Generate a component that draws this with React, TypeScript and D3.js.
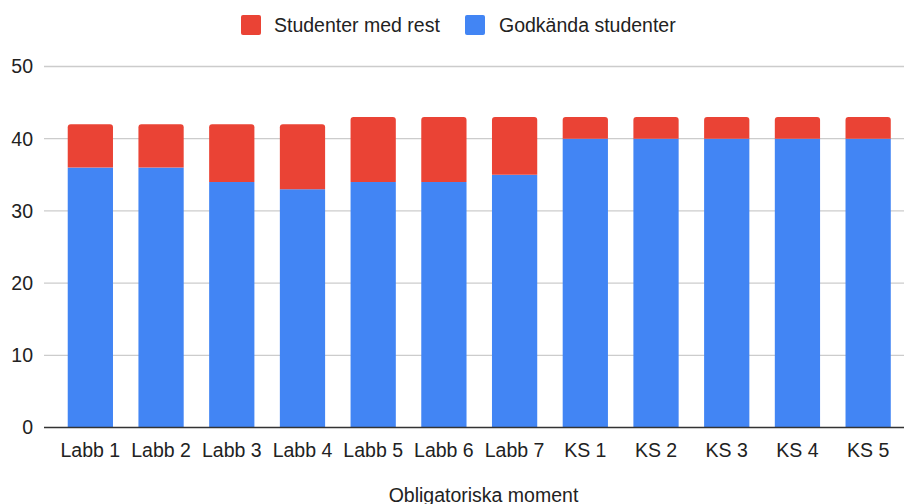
import React from "react";
import * as d3 from "d3";

const categories = ["Labb 1", "Labb 2", "Labb 3", "Labb 4", "Labb 5", "Labb 6", "Labb 7", "KS 1", "KS 2", "KS 3", "KS 4", "KS 5"];
const godkanda = [36, 36, 34, 33, 34, 34, 35, 40, 40, 40, 40, 40];
const medRest = [6, 6, 8, 9, 9, 9, 8, 3, 3, 3, 3, 3];
const yTicks = [0, 10, 20, 30, 40, 50];
const seriesNames = ["Studenter med rest", "Godkända studenter"];
const seriesColors = ["#ea4335", "#4285f4"];
const xTitle = "Obligatoriska moment";

const W = 904;
const H = 504;
const FONT = "'Liberation Sans', Arial, sans-serif";
const FS = 19.5;

function topRoundedRect(x: number, y: number, w: number, h: number, r: number) {
  const rr = Math.min(r, h, w / 2);
  return `M${x},${y + h}V${y + rr}Q${x},${y} ${x + rr},${y}H${x + w - rr}Q${x + w},${y} ${x + w},${y + rr}V${y + h}Z`;
}

export default function App() {
  const x = d3.scaleBand<string>().domain(categories).range([55, 903.5]).paddingInner(0.36).paddingOuter(0.18);
  const y = d3.scaleLinear().domain([0, 50]).range([427.5, 66.5]);
  const bw = x.bandwidth();

  return (
    <svg width={W} height={H} style={{ position: "absolute", left: 0, top: 0 }} fontFamily={FONT}>
      <rect width={W} height={H} fill="#fff" />
      {/* legend */}
      <g>
        <rect x={241} y={15} width={20} height={20} rx={2} fill={seriesColors[0]} />
        <text x={274} y={31.5} fontSize={FS} fill="#222">{seriesNames[0]}</text>
        <rect x={465} y={15} width={20} height={20} rx={2} fill={seriesColors[1]} />
        <text x={499} y={31.5} fontSize={FS} fill="#222">{seriesNames[1]}</text>
      </g>
      {/* gridlines */}
      {yTicks.filter((t) => t !== 0).map((t) => (
        <line key={t} x1={44} x2={904} y1={y(t)} y2={y(t)} stroke="#cccccc" strokeWidth={1.3} />
      ))}
      {yTicks.map((t) => (
        <text key={"l" + t} x={33} y={y(t)} dy="0.35em" textAnchor="end" fontSize={FS} fill="#222">{t}</text>
      ))}
      {/* bars */}
      {categories.map((c, i) => {
        const x0 = x(c)!;
        const g = godkanda[i];
        const r = medRest[i];
        return (
          <g key={c}>
            <rect x={x0} y={y(g)} width={bw} height={y(0) - y(g)} fill={seriesColors[1]} />
            <path d={topRoundedRect(x0, y(g + r), bw, y(g) - y(g + r), 3)} fill={seriesColors[0]} />
          </g>
        );
      })}
      <line x1={44} x2={904} y1={y(0)} y2={y(0)} stroke="#333" strokeWidth={1.3} />
      {categories.map((c) => (
        <text key={"x" + c} x={x(c)! + bw / 2} y={457} textAnchor="middle" fontSize={FS} fill="#222">{c}</text>
      ))}
      <text x={483.5} y={501.5} textAnchor="middle" fontSize={FS} fill="#222">{xTitle}</text>
    </svg>
  );
}
